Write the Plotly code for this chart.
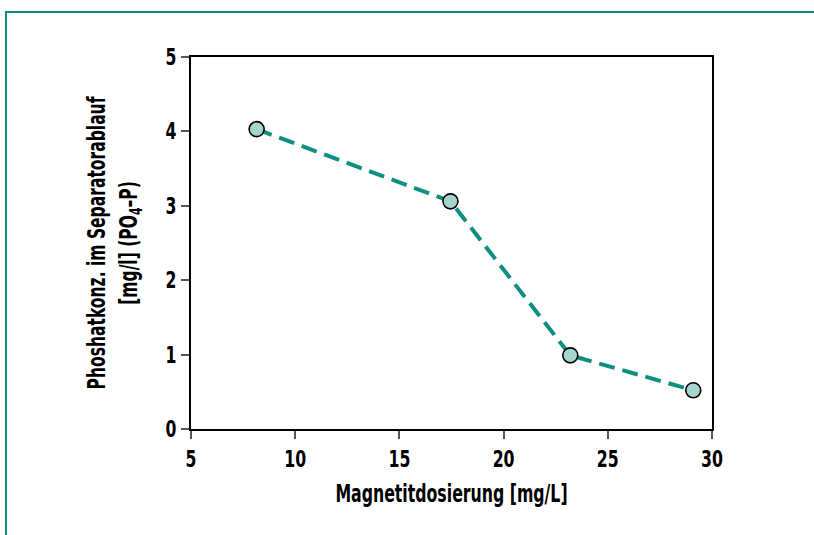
import plotly.graph_objects as go

dosage = [8.15, 17.45, 23.2, 29.1]
phosphate = [4.03, 3.06, 0.99, 0.52]
x_ticks = [5, 10, 15, 20, 25, 30]
y_ticks = [0, 1, 2, 3, 4, 5]

FONT = "DejaVu Sans Condensed"
TEAL = "#0b9080"

fig = go.Figure()
fig.add_trace(go.Scatter(
    x=dosage, y=phosphate, mode="lines+markers",
    line=dict(color=TEAL, width=4, dash="16px,8px"),
    marker=dict(size=15, color="#a6d4cf", line=dict(color="black", width=1.6)),
    cliponaxis=False, showlegend=False,
))

W, H = 814, 535
L, R, T, B = 191, 712, 57, 429
pw, ph = R - L, B - T

def px(x):
    return (x - L) / pw

def py(y):
    return (B - y) / ph

fig.add_shape(type="line", xref="paper", yref="paper",
              x0=px(6), x1=px(6), y0=py(12), y1=py(540),
              line=dict(color=TEAL, width=2))
fig.add_shape(type="line", xref="paper", yref="paper",
              x0=px(5), x1=px(820), y0=py(12), y1=py(12),
              line=dict(color=TEAL, width=2))

tick_font = dict(family=FONT, size=23, color="black", weight="bold")
title_font = dict(family=FONT, size=24, color="black", weight="bold")

axis_common = dict(
    showline=True, linecolor="black", linewidth=2, mirror=True,
    ticks="outside", ticklen=8, tickwidth=1.5, tickcolor="#555",
    showgrid=False, zeroline=False,
    tickfont=tick_font,
)

fig.update_layout(
    width=W, height=H,
    margin=dict(l=L, r=W - R, t=T, b=H - B),
    paper_bgcolor="white", plot_bgcolor="white",
    xaxis=dict(range=[5, 30], tickvals=x_ticks, **axis_common,
               title=dict(text="Magnetitdosierung [mg/L]", standoff=14,
                          font=dict(family=FONT, size=25, color="black", weight="bold"))),
    yaxis=dict(range=[0, 5], tickvals=y_ticks, **axis_common,
               title=dict(text="Phoshatkonz. im Separatorablauf<br>[mg/l] (PO<sub>4</sub>–P)",
                          standoff=18, font=title_font)),
)

post = """
document.body.style.margin='0';
var gd = document.getElementById('{plot_id}');
function squeeze(el, f){
  var w = el.getComputedTextLength();
  if (w > 0) {
    el.setAttribute('textLength', (w*f).toFixed(1));
    el.setAttribute('lengthAdjust', 'spacingAndGlyphs');
  }
}
gd.querySelectorAll('g.xtick text, g.ytick text').forEach(function(t){ squeeze(t, 0.76); });
gd.querySelectorAll('text.xtitle').forEach(function(t){ squeeze(t, 0.70); });
gd.querySelectorAll('text.ytitle tspan.line').forEach(function(t){ squeeze(t, 0.72); });
"""

fig.write_html("out.html", post_script=post, config={"displayModeBar": False})
